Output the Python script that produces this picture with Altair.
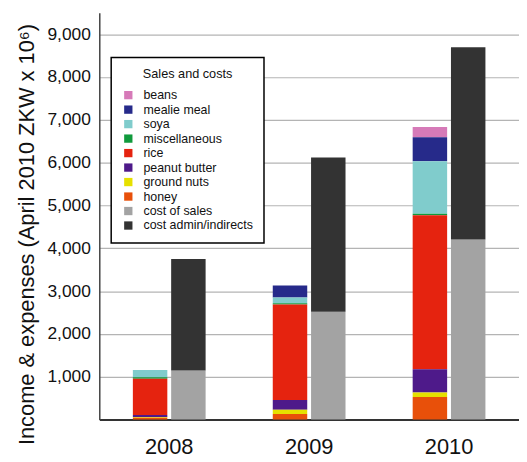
import altair as alt
import pandas as pd

years = ["2008", "2009", "2010"]

# legend order (top to bottom)
categories = ["beans", "mealie meal", "soya", "miscellaneous", "rice",
              "peanut butter", "ground nuts", "honey", "cost of sales",
              "cost admin/indirects"]
colors = ["#d67ab8", "#262a8a", "#80cccc", "#109a3c", "#e5230f",
          "#4e1a8a", "#e6e000", "#e8500a", "#a3a3a3", "#333333"]

# values per year (April 2010 ZKW x 10^6)
beans = [0, 0, 239]
mealie_meal = [0, 278, 556]
soya = [170, 139, 1227]
miscellaneous = [30, 30, 38]
rice = [850, 2230, 3596]
peanut_butter = [45, 224, 540]
ground_nuts = [20, 100, 108]
honey = [40, 130, 525]
cost_of_sales = [1145, 2515, 4205]
cost_admin = [2605, 3605, 4490]

y_ticks = [1000, 2000, 3000, 4000, 5000, 6000, 7000, 8000, 9000]

series = [beans, mealie_meal, soya, miscellaneous, rice, peanut_butter,
          ground_nuts, honey, cost_of_sales, cost_admin]
groups = ["income"] * 8 + ["costs"] * 2
stack_rank = [7, 6, 5, 4, 3, 2, 1, 0, 0, 1]

rows = []
for ci, cat in enumerate(categories):
    for yi, yr in enumerate(years):
        rows.append({"year": yr, "category": cat, "value": series[ci][yi],
                     "group": groups[ci], "rank": stack_rank[ci]})
df = pd.DataFrame(rows)

chart = alt.Chart(df).mark_bar().encode(
    x=alt.X("year:N", sort=years,
            scale=alt.Scale(paddingInner=0.48, paddingOuter=0.24),
            axis=alt.Axis(title=None, labelAngle=0, labelFontSize=22,
                          labelColor="#111", labelPadding=17, ticks=False,
                          domainColor="#333", domainWidth=2,
                          labelFont="Liberation Sans")),
    xOffset=alt.XOffset("group:N", sort=["income", "costs"],
                        scale=alt.Scale(paddingInner=0.1, paddingOuter=0)),
    y=alt.Y("value:Q", stack="zero",
            scale=alt.Scale(domain=[0, 9500], nice=False),
            axis=alt.Axis(title="Income & expenses (April 2010 ZKW x 10⁶)",
                          values=y_ticks,
                          format=",.0f", labelFontSize=17.5, labelColor="#111",
                          labelPadding=9, ticks=False, grid=True,
                          gridColor="#b4b4b4", gridWidth=1.2,
                          domainColor="#444", domainWidth=1.5,
                          titleFontSize=22, titleFontWeight="normal",
                          titleColor="#111", titleX=-66, titleY=223,
                          titleBaseline="alphabetic",
                          labelFont="Liberation Sans", titleFont="Liberation Sans")),
    color=alt.Color("category:N", sort=categories,
                    scale=alt.Scale(domain=categories, range=colors),
                    legend=alt.Legend(title="Sales and costs", orient="none",
                                      legendX=12, legendY=45,
                                      symbolType="square", symbolSize=70,
                                      symbolStrokeWidth=0,
                                      labelFontSize=12.5, titleFontSize=12.8,
                                      titleFontWeight="normal",
                                      titleAnchor="middle",
                                      labelOffset=9, padding=11,
                                      titlePadding=8, rowPadding=1.6,
                                      strokeColor="#000", fillColor="#fff",
                                      labelColor="#111", titleColor="#111",
                                      labelFont="Liberation Sans",
                                      titleFont="Liberation Sans")),
    order=alt.Order("rank:Q", sort="ascending"),
).properties(
    width=423, height=410,
    autosize=alt.AutoSizeParams(type="none"),
    padding={"left": 92, "top": 3, "right": 0, "bottom": 40},
).configure_view(stroke=None).configure_legend(strokeWidth=1.5)

chart.save("out.html", embed_options={"renderer": "svg", "actions": False})
